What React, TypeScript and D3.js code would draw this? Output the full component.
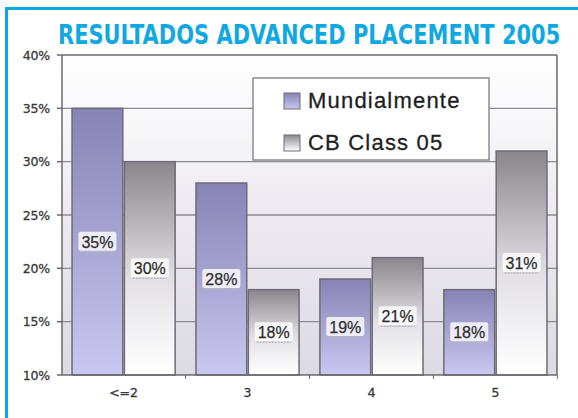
import React from "react";
import * as d3 from "d3";

const categories = ["<=2", "3", "4", "5"];
const seriesNames = ["Mundialmente", "CB Class 05"];
const mundialmente = [35, 28, 19, 18];
const cbClass05 = [30, 18, 21, 31];
const yTicks = [10, 15, 20, 25, 30, 35, 40];
const title = "RESULTADOS ADVANCED PLACEMENT 2005";

const W = 578;
const H = 418;
const plot = { left: 62, right: 557, top: 55, bottom: 375 };

export default function App() {
  const x = d3
    .scaleBand<string>()
    .domain(categories)
    .range([plot.left, plot.right])
    .paddingInner(0.168)
    .paddingOuter(0.081);
  const xs = d3
    .scaleBand<string>()
    .domain(seriesNames)
    .range([0, x.bandwidth()])
    .paddingInner(0.03);
  const y = d3.scaleLinear().domain([10, 40]).range([plot.bottom, plot.top]);
  const step = x.step();
  const values = [mundialmente, cbClass05];
  const fills = ["url(#gMund)", "url(#gCB)"];

  return (
    <svg
      width={W}
      height={H}
      style={{ position: "absolute", left: 0, top: 0, background: "#fff" }}
    >
      <defs>
        <linearGradient id="bgPlot" x1="0" y1="0" x2="0" y2="1">
          <stop offset="0" stopColor="#ffffff" />
          <stop offset="0.45" stopColor="#eeecf2" />
          <stop offset="1" stopColor="#dddbe2" />
        </linearGradient>
        <linearGradient id="gMund" x1="0" y1="0" x2="0" y2="1">
          <stop offset="0" stopColor="#8783b5" />
          <stop offset="1" stopColor="#cac7f0" />
        </linearGradient>
        <linearGradient id="gCB" x1="0" y1="0" x2="0" y2="1">
          <stop offset="0" stopColor="#89878c" />
          <stop offset="0.55" stopColor="#e2e0e5" />
          <stop offset="1" stopColor="#ffffff" />
        </linearGradient>
        <linearGradient id="swM" x1="0" y1="0" x2="0" y2="1">
          <stop offset="0" stopColor="#8783b5" />
          <stop offset="1" stopColor="#cac7f0" />
        </linearGradient>
        <linearGradient id="swC" x1="0" y1="0" x2="0" y2="1">
          <stop offset="0" stopColor="#89878c" />
          <stop offset="1" stopColor="#ffffff" />
        </linearGradient>
      </defs>

      {/* cyan frame */}
      <rect x={6.5} y={8.5} width={640} height={480} fill="none" stroke="#0aa9e6" strokeWidth={3} />

      {/* title */}
      <g transform="translate(58,44) scale(0.86,1)">
        <text
          x={0}
          y={0}
          fill="#11a8e2"
          fontFamily="'DejaVu Sans Condensed', 'Liberation Sans Narrow', Arial, sans-serif"
          fontWeight="bold"
          fontSize={27}
          textLength={584}
          lengthAdjust="spacingAndGlyphs"
        >
          {title}
        </text>
      </g>

      {/* plot background */}
      <rect
        x={plot.left}
        y={plot.top}
        width={plot.right - plot.left}
        height={plot.bottom - plot.top}
        fill="url(#bgPlot)"
      />

      {/* gridlines */}
      {yTicks.slice(1, -1).map((t) => (
        <line
          key={"g" + t}
          x1={plot.left}
          x2={plot.right}
          y1={y(t)}
          y2={y(t)}
          stroke="#8c8b92"
          strokeWidth={1.4}
        />
      ))}
      <line x1={plot.left} x2={plot.right} y1={plot.top} y2={plot.top} stroke="#6a696f" strokeWidth={1.5} />
      <line x1={plot.right} x2={plot.right} y1={plot.top} y2={plot.bottom} stroke="#6a696f" strokeWidth={1.5} />

      {/* bars */}
      {categories.map((c, i) =>
        seriesNames.map((s, k) => {
          const v = values[k][i];
          const bx = (x(c) as number) + (xs(s) as number);
          const by = y(v);
          return (
            <rect
              key={c + s}
              x={bx}
              y={by}
              width={xs.bandwidth()}
              height={plot.bottom - by}
              fill={fills[k]}
              stroke="#6d6b76"
              strokeWidth={1.5}
            />
          );
        })
      )}

      {/* value labels */}
      {categories.map((c, i) =>
        seriesNames.map((s, k) => {
          const v = values[k][i];
          const cx = (x(c) as number) + (xs(s) as number) + xs.bandwidth() / 2;
          const cy = (y(v) + plot.bottom) / 2;
          return (
            <g key={"l" + c + s}>
              <rect x={cx - 19} y={cy - 10} width={38} height={19} rx={2} fill="#ffffff" opacity={0.8} />
              <line x1={cx - 17} x2={cx + 17} y1={cy + 10} y2={cy + 10} stroke="#b9b8bf" strokeWidth={1.5} strokeDasharray="2,1" />
              <text
                x={cx}
                y={cy + 6}
                textAnchor="middle"
                fontFamily="'Liberation Sans', Arial, sans-serif"
                fontSize={16}
                fill="#2e2e2e"
                stroke="#2e2e2e"
                strokeWidth={0.25}
              >
                {v + "%"}
              </text>
            </g>
          );
        })
      )}

      {/* axes */}
      <line x1={plot.left} x2={plot.left} y1={plot.top} y2={plot.bottom} stroke="#6a696f" strokeWidth={1.5} />
      <line x1={plot.left} x2={plot.right} y1={plot.bottom} y2={plot.bottom} stroke="#6a696f" strokeWidth={1.5} />
      {yTicks.map((t) => (
        <g key={"t" + t}>
          <line x1={plot.left - 5} x2={plot.left} y1={y(t)} y2={y(t)} stroke="#6a696f" strokeWidth={1.5} />
          <text
            x={50}
            y={y(t) + 4.5}
            textAnchor="end"
            fontFamily="'DejaVu Sans', Verdana, sans-serif"
            fontSize={12.5}
            fill="#3a3a3a"
            stroke="#3a3a3a"
            strokeWidth={0.3}
            letterSpacing={-0.2}
          >
            {t + "%"}
          </text>
        </g>
      ))}
      {categories.map((c) => {
        const bx = (x(c) as number) - (step - x.bandwidth()) / 2;
        return (
          <g key={"c" + c}>
            <line x1={bx + step} x2={bx + step} y1={plot.bottom} y2={plot.bottom + 4} stroke="#6a696f" strokeWidth={1} />
            <text
              x={bx + step / 2}
              y={plot.bottom + 22}
              textAnchor="middle"
              fontFamily="'DejaVu Sans', Verdana, sans-serif"
              fontSize={12.5}
              fill="#3a3a3a"
              stroke="#3a3a3a"
              strokeWidth={0.3}
            >
              {c}
            </text>
          </g>
        );
      })}

      {/* legend */}
      <rect x={253} y={78} width={236} height={82} fill="#ffffff" stroke="#8c8b92" strokeWidth={1.5} />
      {seriesNames.map((s, k) => (
        <g key={"lg" + s}>
          <rect x={284} y={93 + k * 42} width={16} height={16} fill={k === 0 ? "url(#swM)" : "url(#swC)"} stroke="#6d6b76" strokeWidth={1} />
          <text
            x={308}
            y={108 + k * 42}
            fontFamily="'Liberation Sans', Arial, sans-serif"
            fontSize={22}
            fill="#1e1e1e"
            stroke="#1e1e1e"
            strokeWidth={0.3}
            letterSpacing={1.2}
          >
            {s}
          </text>
        </g>
      ))}
    </svg>
  );
}
